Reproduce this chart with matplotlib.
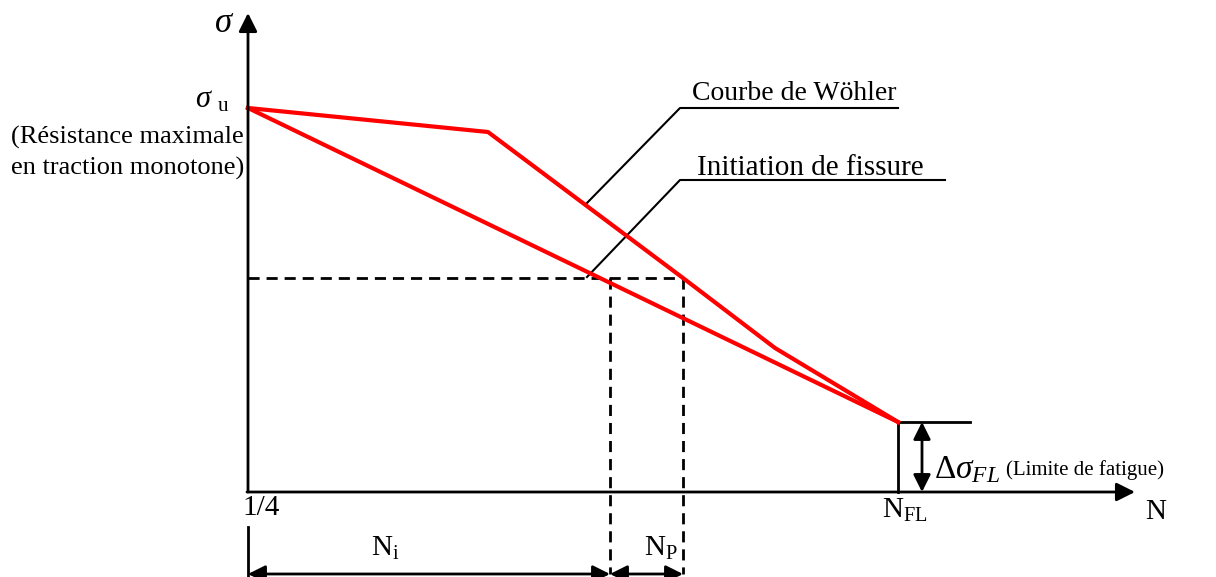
import numpy as np
import matplotlib
matplotlib.use('Agg')
import matplotlib.pyplot as plt

plt.rcParams['font.family'] = ['Liberation Serif', 'DejaVu Serif']
plt.rcParams['mathtext.fontset'] = 'custom'
plt.rcParams['mathtext.rm'] = 'Liberation Serif'
plt.rcParams['mathtext.it'] = 'Liberation Serif:italic'

#Schematic values (N along x, stress along y)
sigma_u  = 384
sigma_fl = 70
N_fl     = 650
N_i      = 362
N_p_end  = 435
sigma_a  = 214

wohler_N     = [0, 240, 435, 527, N_fl]
wohler_sigma = [sigma_u, 360, sigma_a, 144, sigma_fl]

init_N     = [0, N_fl]
init_sigma = [sigma_u, sigma_fl]

leader_wohler_N     = [337, 432, 650]
leader_wohler_sigma = [287, 384, 384]
leader_init_N       = [339, 432, 697]
leader_init_sigma   = [215, 312, 312]

fig = plt.figure(figsize=(12.16, 5.77), dpi=100)
ax = fig.add_axes([0, 0, 1, 1])
ax.set_xlim(-248, 968)
ax.set_ylim(-85, 492)
ax.axis('off')

red = '#ff0000'
ax.plot(wohler_N, wohler_sigma, color=red, lw=3, zorder=3)
ax.plot(init_N, init_sigma, color=red, lw=3, zorder=3)

#Axes with arrow heads
head = dict(color='black', lw=2, shrinkA=0, shrinkB=0)
ax.annotate('', xy=(0, 479), xytext=(0, 0),
            arrowprops=dict(arrowstyle='-|>', mutation_scale=28, **head))
ax.annotate('', xy=(887, 0), xytext=(-1, 0),
            arrowprops=dict(arrowstyle='-|>', mutation_scale=28, **head))

#Dashed construction lines
dash = dict(color='black', lw=2, linestyle=(0, (4, 2.5)))
ax.plot([0, N_p_end], [sigma_a, sigma_a], **dash)
ax.plot([N_i, N_i], [sigma_a, -82], **dash)
ax.plot([N_p_end, N_p_end], [sigma_a, -82], **dash)

#Leader lines to labels
ax.plot(leader_wohler_N, leader_wohler_sigma, color='black', lw=1.5)
ax.plot(leader_init_N, leader_init_sigma, color='black', lw=1.5)

#Fatigue limit bracket
ax.plot([N_fl, N_fl], [0, sigma_fl], color='black', lw=2)
ax.plot([N_fl, 722], [sigma_fl, sigma_fl], color='black', lw=2)
ax.annotate('', xy=(674, sigma_fl), xytext=(674, 0),
            arrowprops=dict(arrowstyle='<|-|>', mutation_scale=26, **head))

#Bottom dimension arrows
ax.plot([0, 0], [-35, -85], color='black', lw=2)
ax.annotate('', xy=(N_i, -82), xytext=(0, -82),
            arrowprops=dict(arrowstyle='<|-|>', mutation_scale=26, **head))
ax.annotate('', xy=(N_p_end, -82), xytext=(N_i, -82),
            arrowprops=dict(arrowstyle='<|-|>', mutation_scale=26, **head))

fs = 19
ax.text(-24, 469, r'$\sigma$', fontsize=25, ha='center', va='center')
ax.text(-18, 392, r'$\sigma\ _{\mathrm{u}}$', fontsize=22, ha='right', va='center')
ax.text(-4, 355, '(Résistance maximale', fontsize=fs, ha='right', va='center')
ax.text(-4, 324, 'en traction monotone)', fontsize=fs, ha='right', va='center')

ax.text(444, 398, 'Courbe de Wöhler', fontsize=20, ha='left', va='center')
ax.text(449, 324, 'Initiation de fissure', fontsize=21, ha='left', va='center')

ax.text(686, 22, r'$\Delta\sigma_{FL}$', fontsize=24, ha='left', va='center')
ax.text(758, 22, '(Limite de fatigue)', fontsize=15, ha='left', va='center')

ax.text(-6, -16, '1/4', fontsize=21, ha='left', va='center')
ax.text(634, -18, r'$\mathrm{N}_{\mathrm{FL}}$', fontsize=21, ha='left', va='center')
ax.text(897, -20, 'N', fontsize=21, ha='left', va='center')

ax.text(137, -56, r'$\mathrm{N}_{\mathrm{i}}$', fontsize=21, ha='center', va='center')
ax.text(413, -56, r'$\mathrm{N}_{\mathrm{P}}$', fontsize=21, ha='center', va='center')

fig.savefig('out.png', dpi=100)
